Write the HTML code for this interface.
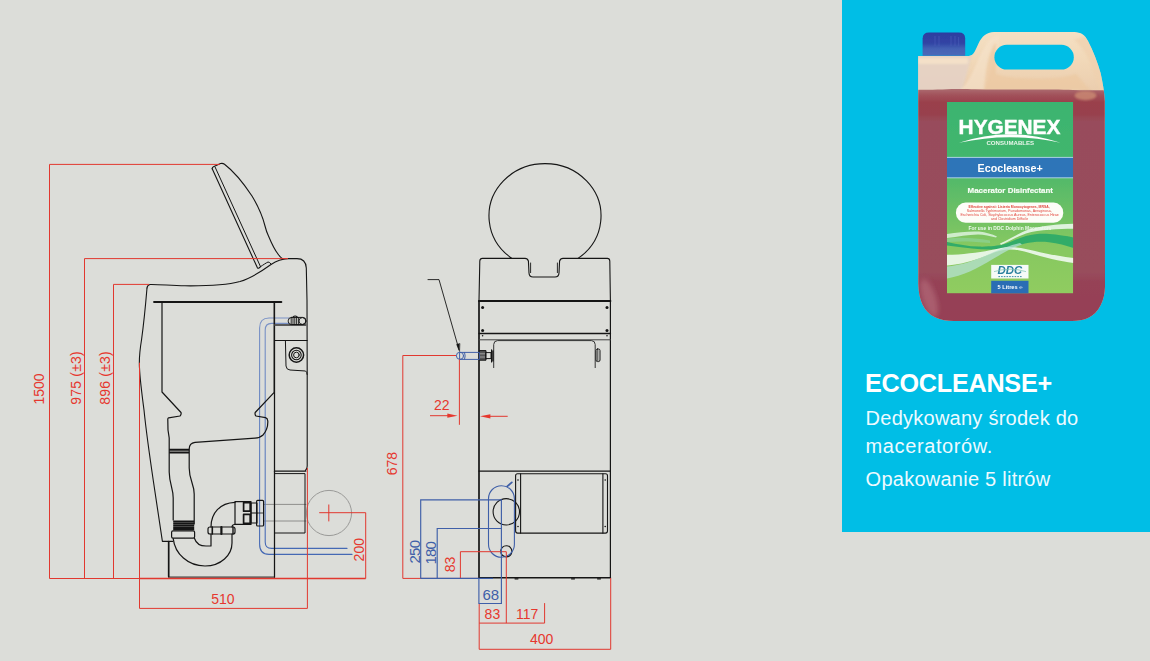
<!DOCTYPE html>
<html>
<head>
<meta charset="utf-8">
<title>Ecocleanse+</title>
<style>
html,body{margin:0;padding:0;}
body{width:1150px;height:661px;overflow:hidden;background:#dcddd9;font-family:"Liberation Sans",sans-serif;position:relative;}
svg{position:absolute;left:0;top:0;display:block;}
text{font-family:"Liberation Sans",sans-serif;}
.card{position:absolute;left:842px;top:0;width:308px;height:532px;background:#00bee6;}
.t1{position:absolute;left:865px;top:368.7px;font-size:25.2px;letter-spacing:-0.25px;font-weight:bold;color:#fff;line-height:28px;white-space:nowrap;}
.t2{position:absolute;left:865.6px;color:#eefaff;font-size:20px;letter-spacing:0.25px;line-height:27px;white-space:nowrap;}
</style>
</head>
<body>
<div class="card"></div>
<div class="t1">ECOCLEANSE+</div>
<div class="t2" style="top:405.2px">Dedykowany środek do</div>
<div class="t2" style="top:432.6px;letter-spacing:0.6px">maceratorów.</div>
<div class="t2" style="top:466.2px">Opakowanie 5 litrów</div>
<svg width="1150" height="661" viewBox="0 0 1150 661">
<!--LEFT-->
<g id="left" fill="none" stroke="#151515" stroke-width="1" stroke-linejoin="round" stroke-linecap="round">
<!-- gray outlet circle and lines -->
<circle cx="329" cy="513" r="22.6" stroke="#9a9a98" stroke-width="1"/>
<path d="M263.6,504.4 H306 M263.6,521 H306" stroke="#8e8e8c" stroke-width="1"/>
<!-- blue pipes -->
<linearGradient id="pipeg" gradientUnits="userSpaceOnUse" x1="0" y1="318" x2="0" y2="554"><stop offset="0" stop-color="#7a92c6"/><stop offset="0.5" stop-color="#6482c0"/><stop offset="1" stop-color="#4468b4"/></linearGradient>
<g stroke="url(#pipeg)" stroke-width="1.1">
<path d="M289,318 H269 Q259.6,318 259.6,328 V544 Q259.6,554.4 269,554.4 H352"/>
<path d="M289,323.4 H271.5 Q265.2,323.4 265.2,330 V542 Q265.2,548.4 271.5,548.4 H347"/>
</g>
<!-- lid -->
<path d="M212.2,168.8 Q212,167.5 213.5,166.8 L220.5,163.6 Q222.6,162.8 224.5,164.3 C232,170 242,181 252,196 C258,206 262.5,216 265,226 C266.5,232 267,233 268.5,236 C271,242 274,249 278,254 C279.5,256.5 281,258 283,259" stroke-width="1.1"/>
<path d="M212.2,168.8 L257.3,267.6 Q258,268.6 259,268 L260.6,266.6" stroke-width="1.1"/>
<path d="M215.2,167.3 L260.4,266.4" stroke-width="1"/>
<path d="M260.6,266.6 C263,265 266,263 268,262 Q269.5,261.8 271,264" stroke-width="1"/>
<!-- body outline -->
<path d="M147,288 Q147.5,284.8 150,284.5 C160,284.3 170,285.6 185,285.8 C205,286 225,285.5 240,281.5 C252,278 262,271 271,264.5 C277,260.5 282,258.8 288,258.6 L297,258.6 Q305.8,258.6 306.3,268 L307,300 L307.2,372 L307.2,466 Q307.2,469 305.4,470.5" stroke-width="1.1"/>
<path d="M147,288 C146,300 144,322 141.5,340 C139.5,352 139,360 139.5,368 C140,380 142,395 144,410 C146,430 149.5,455 153.5,482 L162.4,541.4 H172.6" stroke-width="1.1"/>
<path d="M168.7,541.6 V576.4" stroke-width="1.7"/>
<path d="M168.4,577.1 H274.6" stroke-width="1"/>
<!-- bowl -->
<path d="M154,302 H281.4" stroke-width="1.8"/>
<path d="M162,302 V392 L181,412.5 Q181.6,414.5 180,416 L168.6,417.8 Q167.6,418.2 167.8,420 L168,430 L169.2,438 L169.2,472 C169.4,484 173.2,488 173.2,498 L173.2,520" stroke-width="1.2"/>
<path d="M274.2,302 V392.4 L255.2,412.5 Q254.6,414.5 256,416 L265.5,417.6 Q267.6,418.2 267.8,421 C268,426 266.5,431 263,435 C261,437 258,438 255,438.2 L195,442.4 Q189.2,443.2 189.2,449 L189.2,468 C189.2,480 194.2,484 194.2,494 L194.2,524" stroke-width="1.2"/>
<path d="M169.2,449.8 H189.2 M169.2,452.4 H189.2" stroke-width="2" stroke-linecap="butt"/>
<!-- pipe band + collar -->
<path d="M173.2,521.4 H194.2 M173.2,523.5 H194.2 M173.2,525.6 H194.2 M173.2,527.7 H194.2 M173.2,529.4 H194.2" stroke-width="1.9" stroke-linecap="butt"/>
<rect x="171.6" y="530.8" width="23" height="7.4" rx="1.4" stroke-width="1.2"/>
<!-- U bend -->
<path d="M173.2,538.6 C175,554 188,566 205,566 C221,566 232,555 232,543 V534" stroke-width="1.2"/>
<path d="M194.4,538.2 C196,543 200,546 206,546 H211 V534" stroke-width="1.2"/>
<!-- nut -->
<rect x="208" y="527" width="27" height="7" rx="2" stroke-width="1.2"/>
<path d="M212.3,527 V534" stroke-width="1.6"/><path d="M221.4,527 V534" stroke-width="2.2"/><path d="M233,527 V534" stroke-width="1.4"/>
<!-- elbow -->
<path d="M211,527 C211,513 220,503 235,502.4" stroke-width="1.2"/>
<path d="M232,527 C232,525.5 233.5,524.4 235,524.2" stroke-width="1.1"/>
<!-- fitting -->
<rect x="235" y="501.6" width="16" height="22.8" stroke-width="1.2"/>
<rect x="243.6" y="502.6" width="6.6" height="8.6" stroke-width="1.7"/><rect x="243.6" y="514.4" width="6.6" height="9" stroke-width="1.7"/>
<rect x="251" y="503" width="6" height="20" stroke-width="1.1"/><path d="M251,513 H257" stroke-width="1.2"/>
<rect x="256.6" y="500.4" width="7" height="25.6" rx="1" stroke-width="1.2"/>
<path d="M257,513 H263.4" stroke-width="0.8"/>
<!-- right column -->
<path d="M274.5,302 V577.3" stroke-width="1.25"/>
<path d="M274.5,325 H306.4" stroke-width="2" stroke="#5a5a5a" stroke-linecap="butt"/>
<path d="M275,340.5 H307.2" stroke-width="1"/>
<path d="M285.4,340.4 L286,366 Q286.4,369.8 290,370 L305.5,371 Q307,371.6 307.2,374.5" stroke-width="1"/>
<circle cx="296.4" cy="355" r="7.2" stroke-width="1.5"/>
<circle cx="296.4" cy="355" r="4.8" stroke-width="1.1"/>
<circle cx="296.4" cy="355" r="2.8" stroke-width="1"/>
<path d="M274.4,471.2 H305.8" stroke-width="1.2"/>
<path d="M274.4,473.6 H305 V533 H274.4" stroke-width="1"/>
<!-- top hose fitting -->
<rect x="288.2" y="317.4" width="17.8" height="7.2" rx="3.4" stroke-width="1"/>
<path d="M291.2,317.6 V324.4 M293,317.4 V324.6 M294.8,317.4 V324.6 M296.6,317.4 V324.6 M298.4,317.4 V324.6" stroke-width="0.9"/>
<circle cx="302.4" cy="321" r="3.4" stroke-width="0.9"/>
<path d="M293,317.2 Q295,314.8 297.4,317.2" stroke-width="1.2"/>
</g>
<!--/LEFT-->
<!--MID-->
<g id="mid" fill="none" stroke="#151515" stroke-width="1" stroke-linejoin="round" stroke-linecap="round">
<!-- lid ellipse -->
<path d="M512,258.4 A56,52.4 0 1 1 578,258.4" stroke-width="1.1"/>
<!-- body outline -->
<path d="M479,301 L479.8,261 Q480,258.4 482.4,258.4 H525 Q527.6,258.4 528.4,261 L529,273 Q529.2,277 533,277 H555 Q558.8,277 559,273 L559.6,261 Q560.4,258.4 563,258.4 H607.4 Q609.6,258.4 609.8,261 L610.4,301" stroke-width="1.1"/>
<path d="M530.6,263 V272.6 M557.4,263 V272.6" stroke-width="0.9"/>
<path d="M479,301 V577.6" stroke-width="1.7"/>
<path d="M610.4,301 V577.6" stroke-width="1.2"/>
<path d="M479,577.7 H610.4" stroke-width="1.5"/>
<path d="M515,578.8 H518 M571.5,578.8 H574.5 M597.5,578.8 H600.5" stroke-width="1.2"/>
<path d="M479,301 H610.4" stroke-width="2"/>
<path d="M479,333.5 H610.4" stroke-width="1.4"/>
<path d="M479,339.8 H610.4" stroke-width="1" stroke="#444"/>
<g fill="#151515" stroke="none">
<circle cx="482.6" cy="307.5" r="1.5"/><circle cx="607" cy="307.5" r="1.5"/>
<circle cx="482.6" cy="330.6" r="1.5"/><circle cx="607" cy="330.6" r="1.5"/>
<circle cx="482.6" cy="335.8" r="0.8"/><circle cx="607" cy="335.8" r="0.8"/>
</g>
<!-- inner panel -->
<path d="M493.7,367.6 V344.5 Q493.8,340.8 497.5,340.6 H591.5 Q595.1,340.8 595.2,344.5 V367.6" stroke-width="1" stroke="#333"/>
<!-- right handle -->
<rect x="596" y="349" width="4" height="12.6" rx="1.6" stroke-width="1"/>
<path d="M597.8,350 V360.6" stroke-width="0.8"/>
<!-- left fitting -->
<rect x="479.6" y="350.6" width="6.4" height="9.6" stroke-width="1" fill="#555"/>
<path d="M479.6,353.8 H486 M479.6,357 H486" stroke="#bbb" stroke-width="0.7"/>
<rect x="486" y="352.6" width="5" height="6" stroke-width="1"/>
<path d="M491.6,349.8 V362 M493,350.8 V361" stroke-width="1.2"/>
<!-- blue pipe stub -->
<g stroke="#3f5fa8" stroke-width="1">
<rect x="460" y="352.4" width="19.4" height="7"/>
<circle cx="460" cy="355.8" r="3.6"/>
<path d="M464.6,352.6 Q465.8,355.8 464.6,359.2"/>
</g>
<!-- leader -->
<path d="M428,279.6 H439 L459,349.6" stroke-width="0.9"/>
<path d="M459.4,351.2 L456.6,344.4 L459.6,343.6 Z" fill="#151515" stroke-width="0.5"/>
<!-- lower section -->
<path d="M479,471.1 H610.4" stroke-width="1.2"/>
<rect x="515.6" y="473.7" width="91.9" height="59.4" rx="2" stroke-width="1.1"/>
<path d="M520.6,473.7 V533.1 M602.9,473.7 V533.1" stroke-width="1.1"/>
<g fill="#151515" stroke="none">
<circle cx="518" cy="480" r="0.8"/><circle cx="518" cy="526.5" r="0.8"/>
<circle cx="605.2" cy="480" r="0.8"/><circle cx="605.2" cy="526.5" r="0.8"/>
</g>
<circle cx="506.3" cy="511.8" r="13.2" stroke-width="1.1"/>
<circle cx="506.3" cy="551.3" r="5.6" stroke-width="1.1"/>
<g stroke="#3f5fa8">
<rect x="488.5" y="485.7" width="25.9" height="71.6" rx="12.95" stroke-width="1.1"/>
<path d="M507.2,486.4 L511.8,482.4" stroke-width="1.8"/>
</g>
</g>
<!--/MID-->
<!--DIMS-->
<g id="dims" fill="none" stroke="#e1382f" stroke-width="1">
<path d="M49.5,578.5 V164.4 H220"/>
<path d="M84.5,578.5 V258.6 H288"/>
<path d="M113.5,578.5 V284.4 H149"/>
<path d="M49.5,578.5 H139.5" stroke-width="1.1"/><path d="M139.5,578.6 H365.7" stroke-width="1.5"/><path d="M365.7,578.6 V512.7 H319.2"/>
<path d="M328.8,504.5 V521.4"/>
<path d="M139.5,362.7 V608.4 H307.4 V468"/>
<path d="M402.8,578.4 V355.5 H456"/>
<path d="M402.8,578.4 H479"/>
<path d="M459.4,359.4 V424.8"/>
<path d="M430,415.7 H448"/>
<path d="M490,416.3 H507.7"/>
<path d="M460.4,578.4 V551.7 H506.3 V623.1"/>
<path d="M479.2,603.5 V649.3 H610.7 V578"/>
<path d="M479.2,623.1 H544.6 V603.1"/>
</g>
<g fill="#e6372e" stroke="none">
<path d="M457.6,415.7 L447.3,413.6 L447.3,417.8 Z"/>
<path d="M480,416.3 L490.4,414.2 L490.4,418.4 Z"/>
</g>
<g id="bluedims" fill="none" stroke="#3f5fa8" stroke-width="1.15">
<path d="M420.7,578.4 V499.9 H501.4 V603.5 H478.9 V578.4"/>
<path d="M437.2,578.4 V528.5 H501.4"/>
<path d="M420.7,578.4 H493"/>
</g>
<g font-size="14px" fill="#e6372e" stroke="none">
<text transform="translate(44,404.6) rotate(-90)">1500</text>
<text transform="translate(80.8,404.8) rotate(-90)" textLength="53.6">975 (±3)</text>
<text transform="translate(109.9,404.8) rotate(-90)" textLength="53.6">896 (±3)</text>
<text x="211.2" y="604.4">510</text>
<text transform="translate(363.9,561.4) rotate(-90)">200</text>
<text transform="translate(396.7,475.2) rotate(-90)">678</text>
<text x="434" y="410.1">22</text>
<text transform="translate(455.1,572.3) rotate(-90)">83</text>
<text x="484.6" y="619.4">83</text>
<text x="516" y="619.4">117</text>
<text x="530" y="644.4">400</text>
</g>
<g font-size="15px" fill="#3f5fa8" stroke="none">
<text transform="translate(419.7,563.4) rotate(-90)" textLength="23.4">250</text>
<text transform="translate(436,564.6) rotate(-90)" textLength="23.4">180</text>
<text x="482.4" y="600">68</text>
</g>
<!--/DIMS-->
<!--BOTTLE-->
<defs>
<clipPath id="bclip"><path d="M918.2,56.1 H969 C974,55.2 975.4,50 978.6,43.2 C982,36.6 986,32.4 994,32 H1074.5 C1081,32.2 1085,35 1088,41 C1093,50.5 1097.5,62 1100.6,73 C1102.6,82 1104.4,92 1104.8,101 L1105,287 C1104.8,300 1099,313 1088,318 C1083,320.2 1078,321 1072,321 H954 C947,321 941,320 935,317.2 C924,312 918.6,300 918.3,284 Z"/></clipPath>
<clipPath id="lclip"><rect x="947" y="102" width="126.2" height="191.4"/></clipPath>
<linearGradient id="cream" x1="0" y1="0" x2="0" y2="1">
<stop offset="0" stop-color="#f5e2c6"/><stop offset="0.12" stop-color="#f1d8b8"/><stop offset="0.22" stop-color="#ebcdae"/><stop offset="1" stop-color="#ebcdae"/>
</linearGradient>
<linearGradient id="liq" x1="0" y1="0" x2="0" y2="1">
<stop offset="0" stop-color="#ac6c70"/><stop offset="0.025" stop-color="#a2525b"/><stop offset="0.055" stop-color="#9a414c"/><stop offset="0.105" stop-color="#98414d"/><stop offset="0.135" stop-color="#984c5b"/><stop offset="0.76" stop-color="#984d5c"/><stop offset="0.8" stop-color="#964257"/><stop offset="1" stop-color="#963f55"/>
</linearGradient>
<linearGradient id="lab" x1="0" y1="0" x2="0" y2="1">
<stop offset="0" stop-color="#3bb470"/><stop offset="0.28" stop-color="#42b66d"/><stop offset="0.42" stop-color="#56ba69"/><stop offset="0.6" stop-color="#70c164"/><stop offset="0.75" stop-color="#86c861"/><stop offset="1" stop-color="#90cc60"/>
</linearGradient>
<linearGradient id="capg" x1="0" y1="0" x2="0" y2="1">
<stop offset="0" stop-color="#2e3da0"/><stop offset="0.45" stop-color="#3144a4"/><stop offset="0.7" stop-color="#4562b4"/><stop offset="1" stop-color="#4a68b8"/>
</linearGradient>
<filter id="soft" x="-5%" y="-5%" width="110%" height="110%"><feGaussianBlur stdDeviation="0.55"/></filter>
<filter id="soft2" x="-20%" y="-20%" width="140%" height="140%"><feGaussianBlur stdDeviation="2.5"/></filter>
<filter id="soft1" x="-20%" y="-20%" width="140%" height="140%"><feGaussianBlur stdDeviation="1.1"/></filter>
</defs>
<g id="bottle" filter="url(#soft)">
<!-- cap -->
<path d="M922.6,55.8 V38.4 Q922.8,32.6 929,32.6 H959 Q965,32.6 965.2,38.4 V55.8 Z" fill="url(#capg)"/>
<g stroke="#4a5cb8" stroke-width="0.9" opacity="0.7"><path d="M935,36 V46 M939,36 V46 M951,36 V46 M955,36 V46 M958.6,37 V46"/></g>
<g clip-path="url(#bclip)">
<rect x="910" y="25" width="205" height="300" fill="url(#cream)"/>
<!-- cream shading -->
<path d="M915,54 H972 L962,92 H915 Z" fill="#e4d2c6" opacity="0.85" filter="url(#soft1)"/>
<path d="M960,90 C972,80 976,62 984,48 C988,40 992,36 1000,35 L994,60 L985,90 Z" fill="#f6e3cc" opacity="0.6" filter="url(#soft1)"/>
<path d="M984,90 C986,70 988,52 996,42 L996,74 C1010,80 1060,80 1076,74 L1090,90 Z" fill="#ecc9a2" opacity="0.75" filter="url(#soft1)"/>
<path d="M918,58 H968 V64 H918 Z" fill="#f9e6cb" opacity="0.7" filter="url(#soft1)"/>
<path d="M1074,40 C1086,48 1094,70 1100,92 L1106,92 L1100,60 L1086,36 Z" fill="#efd0ae" opacity="0.7" filter="url(#soft1)"/>
<!-- liquid -->
<path d="M910,89.6 C940,90.2 950,88.2 975,89.2 C1010,90 1050,89.2 1073,90 C1085,90.6 1100,90 1115,90.4 V330 H910 Z" fill="url(#liq)"/>
<ellipse cx="1085.5" cy="95.6" rx="11" ry="4.6" fill="#c98872" opacity="0.85" filter="url(#soft1)"/>
<ellipse cx="929" cy="298" rx="7" ry="20" transform="rotate(-18 929 298)" fill="#bd7a86" opacity="0.5" filter="url(#soft2)"/>
</g>
<!-- handle hole -->
<rect x="994.4" y="44.8" width="79.4" height="24.8" rx="12.4" fill="#00bee6"/>
<!-- label -->
<g clip-path="url(#lclip)">
<rect x="947" y="102" width="126.2" height="191.4" fill="url(#lab)"/>
<!-- waves -->
<path d="M947,234 C958,232.4 970,231 979,231.6 C986,232.4 992,234.4 997,236.4 L996,237.6 C990,236 984,234.6 978,234.4 C968,234.6 958,236.4 947,238 Z" fill="#e4f5e6" opacity="0.8"/>
<path d="M947,238.4 C960,237 975,237.6 990,240.6 L990,243 C975,241.4 960,241 947,242 Z" fill="#8fd4a0" opacity="0.6"/>
<path d="M1000,243.6 C1010,239 1018,233.6 1026,230.4 C1040,225.6 1058,224.4 1073.5,223.8 L1073.5,228.8 C1058,229 1040,229.6 1026,233.4 C1016,236.8 1008,242 1001,245 Z" fill="#e9f7ea" opacity="0.9"/>
<path d="M947,242 C958,244.4 968,246.4 979,246.6 C990,246.8 998,245.8 1003,244.6 C1012,241.6 1019,238 1026,236 C1034,234 1042,233.6 1049,234 C1058,234.6 1066,236 1073.5,237.4 L1073.5,248 C1066,245.6 1058,243 1049,242.2 C1040,241.4 1032,242 1025,243.6 C1017,245.8 1010,248.4 1002,249 C992,249.8 982,249.6 972,248.6 C963,247.6 955,246.6 947,245.6 Z" fill="#2aa968" opacity="0.92"/>
<path d="M947,254.8 C962,254.6 978,252.6 990,250.2 C996,249 1000,248 1004,247.4 C1012,246.6 1020,247.6 1028,249.4 C1044,253 1060,256.6 1073.5,258 L1073.5,263 C1060,261 1044,257.6 1028,252.4 C1020,250 1012,249 1005,249.8 C998,251 992,253.4 985,256.2 C973,261 960,264.6 947,265.4 Z" fill="#eef8ee" opacity="0.92"/>
<path d="M947,266.6 C960,265.6 974,261 986,255.6 C998,250 1010,245 1020,243 L1022,244.6 C1012,248 1002,253.4 992,259.6 C978,268 962,276.6 947,278.4 Z" fill="#b5e0d2" opacity="0.75"/>
<!-- texts -->
<text x="958.6" y="133.8" font-size="20px" font-weight="bold" fill="#fff" stroke="#fff" stroke-width="0.45" textLength="101.8" lengthAdjust="spacingAndGlyphs">HYGENEX</text>
<path d="M959,142.8 Q1009.5,125.6 1060.6,142.8 Q1009.5,131.6 959,142.8 Z" fill="#fff"/>
<text x="986.4" y="145.2" font-size="5.6px" font-weight="bold" fill="#e8f6ea" textLength="47.8" lengthAdjust="spacingAndGlyphs">CONSUMABLES</text>
<rect x="947" y="157.2" width="126.2" height="20.8" fill="#2d74b8"/>
<path d="M947,157.4 H1073.2 M947,177.8 H1073.2" stroke="#b9dcea" stroke-width="1" opacity="0.9"/>
<text x="977.6" y="172.2" font-size="11.5px" font-weight="bold" fill="#fff" textLength="65.2" lengthAdjust="spacingAndGlyphs">Ecocleanse+</text>
<text x="967.6" y="193.2" font-size="8px" font-weight="bold" fill="#f6fdf4" stroke="#f6fdf4" stroke-width="0.2" textLength="85.4" lengthAdjust="spacingAndGlyphs">Macerator Disinfectant</text>
<rect x="956" y="202.6" width="107.2" height="20.2" rx="9.6" fill="#fdfdf8"/>
<g font-size="3.7px" fill="#e2453c" font-weight="bold">
<text x="968.6" y="207.6" textLength="81" lengthAdjust="spacingAndGlyphs">Effective against: Listeria Monocytogenes, MRSA,</text>
<text x="966.8" y="211.8" textLength="85" lengthAdjust="spacingAndGlyphs" font-weight="normal">Salmonella Typhimurium, Pseudomonas, Aeruginosa,</text>
<text x="960.4" y="216.2" textLength="98.4" lengthAdjust="spacingAndGlyphs" font-weight="normal">Escherichia Coli, Staphylococcus Aureus, Enterococcus Hirae</text>
<text x="991" y="220.4" textLength="37.2" lengthAdjust="spacingAndGlyphs" font-weight="normal">and Clostridium Difficile</text>
</g>
<text x="968.5" y="229.9" font-size="5.5px" font-weight="bold" fill="#eef9ee" textLength="82.8" lengthAdjust="spacingAndGlyphs">For use in DDC Dolphin Macerators</text>
<!-- DDC logo -->
<rect x="991.2" y="264.9" width="37.3" height="13.6" fill="#f6faf8"/>
<text x="997.6" y="274.4" font-size="10px" font-weight="bold" font-style="italic" fill="#2a7f9e" textLength="24.6" lengthAdjust="spacingAndGlyphs">DDC</text>
<path d="M994,271.6 Q1010,266.8 1026,271.6" stroke="#7cc3b0" stroke-width="0.7" fill="none"/>
<path d="M998.4,276.6 H1021.6" stroke="#2a7f9e" stroke-width="0.9" stroke-dasharray="1.6 1.1"/>
<rect x="991.2" y="280.8" width="37.3" height="12.8" fill="#2a6db4"/>
<text x="997.6" y="289.4" font-size="5.2px" font-weight="bold" fill="#fff" textLength="25" lengthAdjust="spacingAndGlyphs">5 Litres ℮</text>
</g>
</g>
<!--/BOTTLE-->
</svg>
</body>
</html>
